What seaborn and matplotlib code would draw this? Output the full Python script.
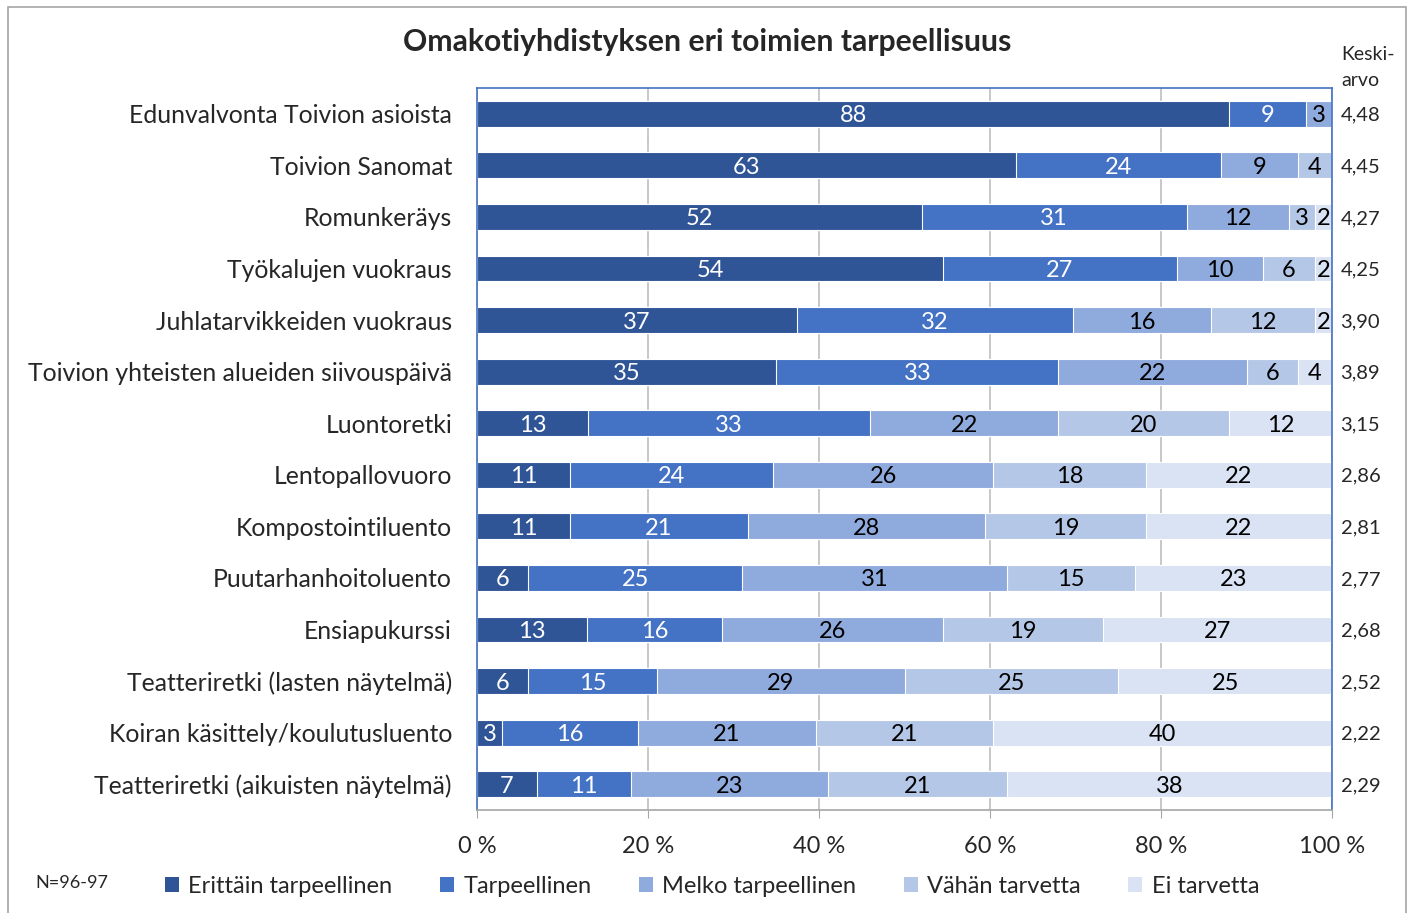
import numpy as np
import pandas as pd
import matplotlib
matplotlib.use("Agg")
import matplotlib.pyplot as plt
from matplotlib.patches import Patch
import seaborn as sns

# data (percentages per answer, top row first)
categories = [
    "Edunvalvonta Toivion asioista",
    "Toivion Sanomat",
    "Romunkeräys",
    "Työkalujen vuokraus",
    "Juhlatarvikkeiden vuokraus",
    "Toivion yhteisten alueiden siivouspäivä",
    "Luontoretki",
    "Lentopallovuoro",
    "Kompostointiluento",
    "Puutarhanhoitoluento",
    "Ensiapukurssi",
    "Teatteriretki (lasten näytelmä)",
    "Koiran käsittely/koulutusluento",
    "Teatteriretki (aikuisten näytelmä)",
]
series_names = ["Erittäin tarpeellinen", "Tarpeellinen", "Melko tarpeellinen",
                "Vähän tarvetta", "Ei tarvetta"]
erittain = [88, 63, 52, 54, 37, 35, 13, 11, 11, 6, 13, 6, 3, 7]
tarpeellinen = [9, 24, 31, 27, 32, 33, 33, 24, 21, 25, 16, 15, 16, 11]
melko = [3, 9, 12, 10, 16, 22, 22, 26, 28, 31, 26, 29, 21, 23]
vahan = [0, 4, 3, 6, 12, 6, 20, 18, 19, 15, 19, 25, 21, 21]
ei = [0, 0, 2, 2, 2, 4, 12, 22, 22, 23, 27, 25, 40, 38]
keskiarvo = ["4,48", "4,45", "4,27", "4,25", "3,90", "3,89", "3,15",
             "2,86", "2,81", "2,77", "2,68", "2,52", "2,22", "2,29"]
x_ticks = [0, 20, 40, 60, 80, 100]

colors = ["#2F5597", "#4472C4", "#8FAADC", "#B4C7E7", "#DAE3F3"]
text_colors = ["white", "white", "black", "black", "black"]

sns.set_style("white")
plt.rcParams["font.family"] = ["Lato", "DejaVu Sans"]

vals = np.array([erittain, tarpeellinen, melko, vahan, ei], dtype=float).T
shares = vals / vals.sum(axis=1, keepdims=True) * 100
cum = np.cumsum(shares, axis=1)

fig = plt.figure(figsize=(14.13, 9.13), dpi=100)
ax = fig.add_axes([477 / 1413, 1 - 810 / 913, (1332 - 477) / 1413, (810 - 88) / 913])

ax.set_axisbelow(True)
ax.xaxis.grid(True, color="#BFBFBF", linewidth=1.2)

# stacked bars: draw cumulative totals from the back so each segment shows
for k in reversed(range(5)):
    df = pd.DataFrame({"kat": categories, "val": cum[:, k]})
    sns.barplot(data=df, x="val", y="kat", orient="h", color=colors[k],
                saturation=1, width=0.5, edgecolor="white", linewidth=0.8, ax=ax)

for i in range(len(categories)):
    for k in range(5):
        if vals[i, k] <= 0:
            continue
        mid = cum[i, k] - shares[i, k] / 2
        ax.text(mid, i, f"{int(vals[i, k])}", ha="center", va="center_baseline",
                fontsize=17, color=text_colors[k])
    ax.text(1.01, i, keskiarvo[i], transform=ax.get_yaxis_transform(),
            ha="left", va="center_baseline", fontsize=14.5)

ax.set_xlim(0, 100)
ax.set_ylim(len(categories) - 0.5, -0.5)
ax.set_xticks(x_ticks)
ax.set_xticklabels([f"{t} %" for t in x_ticks])
ax.set_xlabel("")
ax.set_ylabel("")
ax.set_yticks(np.arange(-0.5, len(categories), 1), minor=True)
ax.tick_params(axis="y", which="major", length=0, pad=18, labelsize=17.8)
ax.tick_params(axis="y", which="minor", length=6, color="#A6A6A6", direction="out")
ax.tick_params(axis="x", which="major", length=6, color="#A6A6A6", direction="out",
               pad=13, labelsize=17, bottom=True)

for side in ["left", "top", "right"]:
    ax.spines[side].set_visible(True)
    ax.spines[side].set_color("#4472C4")
    ax.spines[side].set_linewidth(1.2)
ax.spines["bottom"].set_color("#A6A6A6")
ax.spines["bottom"].set_linewidth(1.2)

fig.text(707 / 1413, 1 - 42 / 913, "Omakotiyhdistyksen eri toimien tarpeellisuus",
         ha="center", va="center", fontsize=21.7, fontweight="bold")
fig.text(1341 / 1413, 1 - 55 / 913, "Keski-", ha="left", va="center", fontsize=14)
fig.text(1341 / 1413, 1 - 80 / 913, "arvo", ha="left", va="center", fontsize=14)
fig.text(35 / 1413, 1 - 883 / 913, "N=96-97", ha="left", va="center", fontsize=13)

handles = [Patch(facecolor=c, edgecolor="none") for c in colors]
fig.legend(handles, series_names, loc="center", ncol=5, frameon=False,
           bbox_to_anchor=(712 / 1413, 1 - 886 / 913), fontsize=17,
           handlelength=0.6, handleheight=0.6, handletextpad=0.4, columnspacing=2.0)

# outer frame like the original chart area
fig.add_artist(plt.Rectangle((8 / 1413, -0.01), (1406 - 8) / 1413, 1 - 7 / 913 + 0.01,
                             transform=fig.transFigure, fill=False,
                             edgecolor="#A6A6A6", linewidth=1.2))

fig.savefig("out.png", dpi=100)
